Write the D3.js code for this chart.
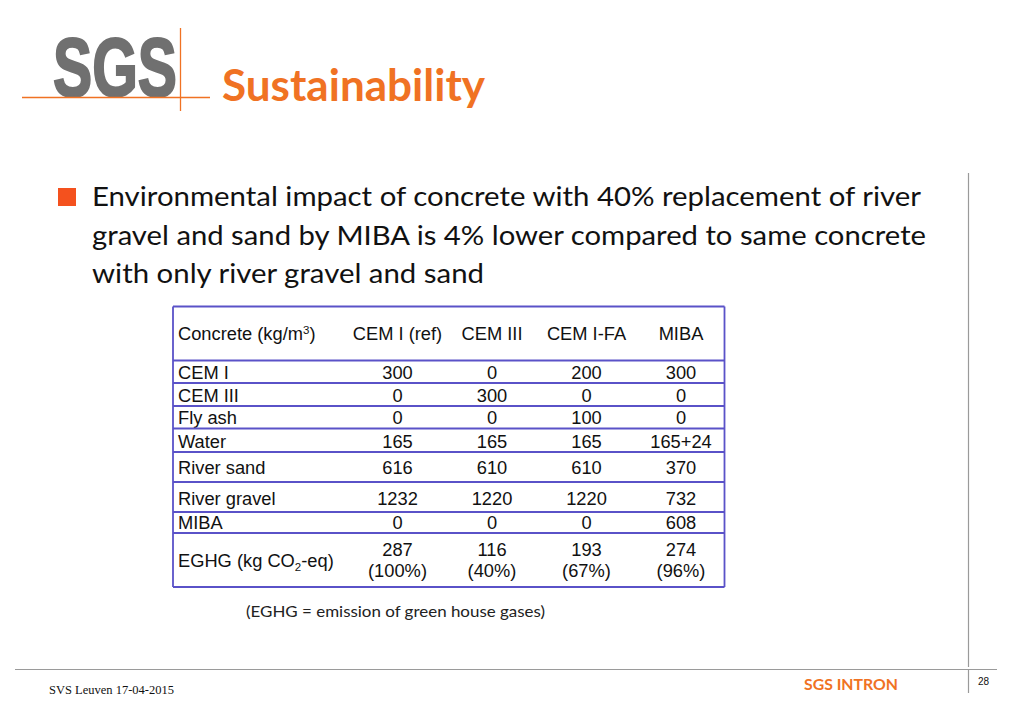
<!DOCTYPE html>
<html><head><meta charset="utf-8">
<script src="https://cdn.jsdelivr.net/npm/d3@7"></script>
<style>html,body{margin:0;padding:0;background:#fff;overflow:hidden}</style>
</head><body>
<script>
// ---- data ----
const mixes = ["CEM I (ref)", "CEM III", "CEM I-FA", "MIBA"];
const components = ["CEM I", "CEM III", "Fly ash", "Water", "River sand", "River gravel", "MIBA"];
const cemI = [300, 0, 200, 300];
const cemIII = [0, 300, 0, 0];
const flyAsh = [0, 0, 100, 0];
const water = [165, 165, 165, 165];
const waterExtra = [0, 0, 0, 24];
const riverSand = [616, 610, 610, 370];
const riverGravel = [1232, 1220, 1220, 732];
const miba = [0, 0, 0, 608];
const eghg = [287, 116, 193, 274];
const eghgPct = [100, 40, 67, 96];
const bulletLines = [
  "Environmental impact of concrete with 40% replacement of river",
  "gravel and sand by MIBA is 4% lower compared to same concrete",
  "with only river gravel and sand"
];

const W = 1024, H = 709;
const svg = d3.select("body").append("svg").attr("width", W).attr("height", H);
svg.append("rect").attr("width", W).attr("height", H).attr("fill", "#fff");

const orange = "#F07223";
// ---- logo ----
svg.append("text").attr("x", 53).attr("y", 95.5)
  .attr("font-family", "Liberation Sans, Arial, sans-serif").attr("font-weight", "bold")
  .attr("font-size", 84).attr("fill", "#707070").attr("stroke", "#707070").attr("stroke-width", 2.2)
  .attr("textLength", 124).attr("lengthAdjust", "spacingAndGlyphs").text("SGS");
svg.append("line").attr("x1", 180.5).attr("x2", 180.5).attr("y1", 28).attr("y2", 111)
  .attr("stroke", orange).attr("stroke-width", 1.3);
svg.append("line").attr("x1", 22).attr("x2", 210).attr("y1", 97.5).attr("y2", 97.5)
  .attr("stroke", orange).attr("stroke-width", 1.3);
svg.append("text").attr("x", 222).attr("y", 101)
  .attr("font-family", "Lato, sans-serif").attr("font-weight", "bold")
  .attr("font-size", 43).attr("fill", orange)
  .attr("textLength", 263).attr("lengthAdjust", "spacingAndGlyphs").text("Sustainability");

// ---- bullet ----
svg.append("rect").attr("x", 58).attr("y", 188).attr("width", 18).attr("height", 18).attr("fill", "#F4511E");
const lineW = [829, 834, 392];
const lineY = d3.scaleLinear().domain([0, 2]).range([206, 283]);
svg.selectAll("text.bl").data(bulletLines).join("text").attr("class", "bl")
  .attr("x", 92).attr("y", (d, i) => lineY(i))
  .attr("font-family", "Lato, sans-serif").attr("font-size", 26.5).attr("fill", "#111")
  .attr("textLength", (d, i) => lineW[i]).attr("lengthAdjust", "spacingAndGlyphs")
  .text(d => d);

// ---- table ----
const tL = 173, tR = 724.5;
const x = d3.scalePoint().domain(mixes).range([397.5, 681]);
const bounds = [306.5, 360.5, 383, 406, 428.5, 452, 482, 512, 533, 587];
const rows = [cemI, cemIII, flyAsh, water, riverSand, riverGravel, miba];
const border = "#5A52C8";
const tf = "Liberation Sans, Arial, sans-serif";
const fs = 18.3;
const g = svg.append("g").attr("font-family", tf).attr("font-size", fs).attr("fill", "#111");

// header
const hdr = g.append("text").attr("x", 178).attr("y", 340);
hdr.append("tspan").text("Concrete (kg/m");
hdr.append("tspan").attr("font-size", 11.5).attr("dy", -6).text("3");
hdr.append("tspan").attr("dy", 6).text(")");
g.selectAll("text.h").data(mixes).join("text").attr("class", "h")
  .attr("x", d => x(d)).attr("y", 340).attr("text-anchor", "middle").text(d => d);

// body rows
const baseOff = [-4.5, -4.5, -4.5, -4.5, -8.5, -7.5, -4.5];
components.forEach((c, r) => {
  const by = bounds[r + 2] + baseOff[r];
  g.append("text").attr("x", 178).attr("y", by).text(c);
  g.selectAll(null).data(rows[r].map((v, i) => ({ v, i }))).join("text")
    .attr("x", d => x(mixes[d.i])).attr("y", by).attr("text-anchor", "middle")
    .text(d => c === "Water" && waterExtra[d.i] ? `${d.v}+${waterExtra[d.i]}` : d.v);
});
// EGHG row
const eg = g.append("text").attr("x", 178).attr("y", 567);
eg.append("tspan").text("EGHG (kg CO");
eg.append("tspan").attr("font-size", 11.5).attr("dy", 4).text("2");
eg.append("tspan").attr("dy", -4).text("-eq)");
g.selectAll("text.ev").data(eghg).join("text").attr("class", "ev")
  .attr("x", (d, i) => x(mixes[i])).attr("y", 556).attr("text-anchor", "middle").text(d => d);
g.selectAll("text.ep").data(eghgPct).join("text").attr("class", "ep")
  .attr("x", (d, i) => x(mixes[i])).attr("y", 577).attr("text-anchor", "middle").text(d => `(${d}%)`);

// borders
svg.selectAll("line.hr").data(bounds).join("line").attr("class", "hr")
  .attr("x1", tL).attr("x2", tR).attr("y1", d => d).attr("y2", d => d)
  .attr("stroke", border).attr("stroke-width", 1.8);
[tL, tR].forEach(xx => svg.append("line").attr("x1", xx).attr("x2", xx)
  .attr("y1", bounds[0]).attr("y2", bounds[bounds.length - 1])
  .attr("stroke", border).attr("stroke-width", 1.8));

// caption
svg.append("text").attr("x", 246).attr("y", 617)
  .attr("font-family", "Lato, sans-serif").attr("font-size", 16).attr("fill", "#222")
  .attr("textLength", 299).attr("lengthAdjust", "spacingAndGlyphs")
  .text("(EGHG = emission of green house gases)");

// ---- frame/footer ----
const grey = "#9a9a9a";
svg.append("line").attr("x1", 968.5).attr("x2", 968.5).attr("y1", 173).attr("y2", 667).attr("stroke", grey).attr("stroke-width", 1.2);
svg.append("line").attr("x1", 15).attr("x2", 997).attr("y1", 669.5).attr("y2", 669.5).attr("stroke", grey).attr("stroke-width", 1.2);
svg.append("line").attr("x1", 968.5).attr("x2", 968.5).attr("y1", 669).attr("y2", 693).attr("stroke", grey).attr("stroke-width", 1.2);
svg.append("text").attr("x", 804).attr("y", 690)
  .attr("font-family", "Lato, sans-serif").attr("font-weight", "bold").attr("font-size", 16).attr("fill", orange)
  .attr("textLength", 94).attr("lengthAdjust", "spacingAndGlyphs").text("SGS INTRON");
svg.append("text").attr("x", 978).attr("y", 685)
  .attr("font-family", "Liberation Sans, Arial, sans-serif").attr("font-size", 10).attr("fill", "#111").text("28");
svg.append("text").attr("x", 49).attr("y", 694)
  .attr("font-family", "Liberation Serif, Times New Roman, serif").attr("font-size", 12.5).attr("fill", "#111").text("SVS Leuven 17-04-2015");
</script>
</body></html>
